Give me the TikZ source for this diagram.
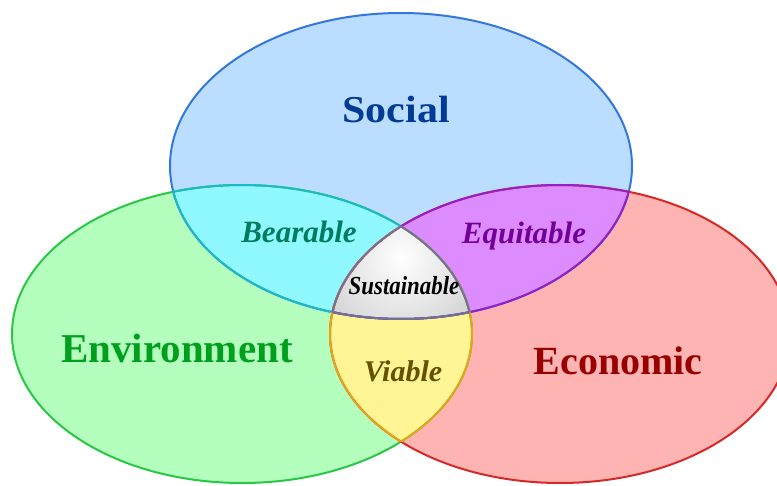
\documentclass[tikz,border=0pt]{standalone}
\usepackage{fontspec}
\setmainfont{Liberation Serif}
\usepackage{graphicx}
\definecolor{sfill}{RGB}{187,221,255}
\definecolor{efill}{RGB}{180,255,190}
\definecolor{cfill}{RGB}{255,180,180}
\definecolor{bfill}{RGB}{144,248,255}
\definecolor{qfill}{RGB}{221,140,255}
\definecolor{vfill}{RGB}{255,245,148}
\definecolor{sline}{RGB}{51,119,221}
\definecolor{eline}{RGB}{40,200,70}
\definecolor{cline}{RGB}{215,40,40}
\definecolor{bline}{RGB}{30,185,200}
\definecolor{qline}{RGB}{150,30,200}
\definecolor{vline}{RGB}{230,165,20}
\definecolor{tline}{RGB}{120,112,145}
\definecolor{stext}{RGB}{0,60,150}
\definecolor{etext}{RGB}{0,160,30}
\definecolor{ctext}{RGB}{153,0,0}
\definecolor{btext}{RGB}{0,125,95}
\definecolor{qtext}{RGB}{115,0,150}
\definecolor{vtext}{RGB}{100,80,0}
\newcommand{\pathSoc}{(401,166) ellipse [x radius=231pt, y radius=153pt]}
\newcommand{\pathEnv}{(242,334) ellipse [x radius=230pt, y radius=149pt]}
\newcommand{\pathEco}{(560,334) ellipse [x radius=230pt, y radius=149pt]}
\tikzset{
  bigtext/.style={anchor=base, inner sep=0pt, font=\fontsize{40}{40}\selectfont\bfseries},
  midtext/.style={anchor=base, inner sep=0pt, font=\fontsize{31}{31}\selectfont\bfseries\itshape},
  ring/.style={line width=2pt}
}
\begin{document}
\begin{tikzpicture}[x=1pt,y=-1pt]
\useasboundingbox (0,0) rectangle (777,486);
\fill[white] (0,0) rectangle (777,486);
\clip (0,0) rectangle (777,486);
% base fills
\fill[sfill] \pathSoc;
\fill[efill] \pathEnv;
\fill[cfill] \pathEco;
% pair intersections
\begin{scope}\clip \pathSoc; \fill[bfill] \pathEnv; \end{scope}
\begin{scope}\clip \pathSoc; \fill[qfill] \pathEco; \end{scope}
\begin{scope}\clip \pathEnv; \fill[vfill] \pathEco; \end{scope}
% triple intersection
\begin{scope}\clip \pathSoc; \clip \pathEnv; \clip \pathEco;
  \shade[inner color=white, outer color={rgb,255:red,160;green,160;blue,160}] (401,258) circle [radius=190pt];
\end{scope}
% outer lines
\draw[ring, sline] \pathSoc;
\draw[ring, eline] \pathEnv;
\draw[ring, cline] \pathEco;
% inner lines
\begin{scope}\clip \pathEnv; \draw[ring, bline] \pathSoc; \end{scope}
\begin{scope}\clip \pathSoc; \draw[ring, bline] \pathEnv; \end{scope}
\begin{scope}\clip \pathEco; \draw[ring, qline] \pathSoc; \end{scope}
\begin{scope}\clip \pathSoc; \draw[ring, qline] \pathEco; \end{scope}
\begin{scope}\clip \pathEnv; \draw[ring, vline] \pathEco; \end{scope}
\begin{scope}\clip \pathEco; \draw[ring, vline] \pathEnv; \end{scope}
\begin{scope}\clip \pathEnv; \clip \pathEco; \draw[ring, tline] \pathSoc; \end{scope}
\begin{scope}\clip \pathSoc; \clip \pathEco; \draw[ring, tline] \pathEnv; \end{scope}
\begin{scope}\clip \pathSoc; \clip \pathEnv; \draw[ring, tline] \pathEco; \end{scope}
% labels
\node[bigtext, text=stext] (social) at (396,123) {\scalebox{1.05}[0.95]{Social}};
\node[bigtext, text=etext] (env) at (177,363) {\fontsize{41}{41}\selectfont Environment};
\node[bigtext, text=ctext] (econ) at (618,375) {Economic};
\node[midtext, text=btext] (bear) at (299,243) {Bearable};
\node[midtext, text=qtext] (equi) at (524,244) {Equitable};
\node[midtext, text=vtext] (viab) at (403,382) {\fontsize{30}{30}\selectfont Viable};
\node[midtext, text=black] (sust) at (404,295) {\fontsize{26}{26}\selectfont\scalebox{0.88}[1]{Sustainable}};
\end{tikzpicture}
\end{document}
